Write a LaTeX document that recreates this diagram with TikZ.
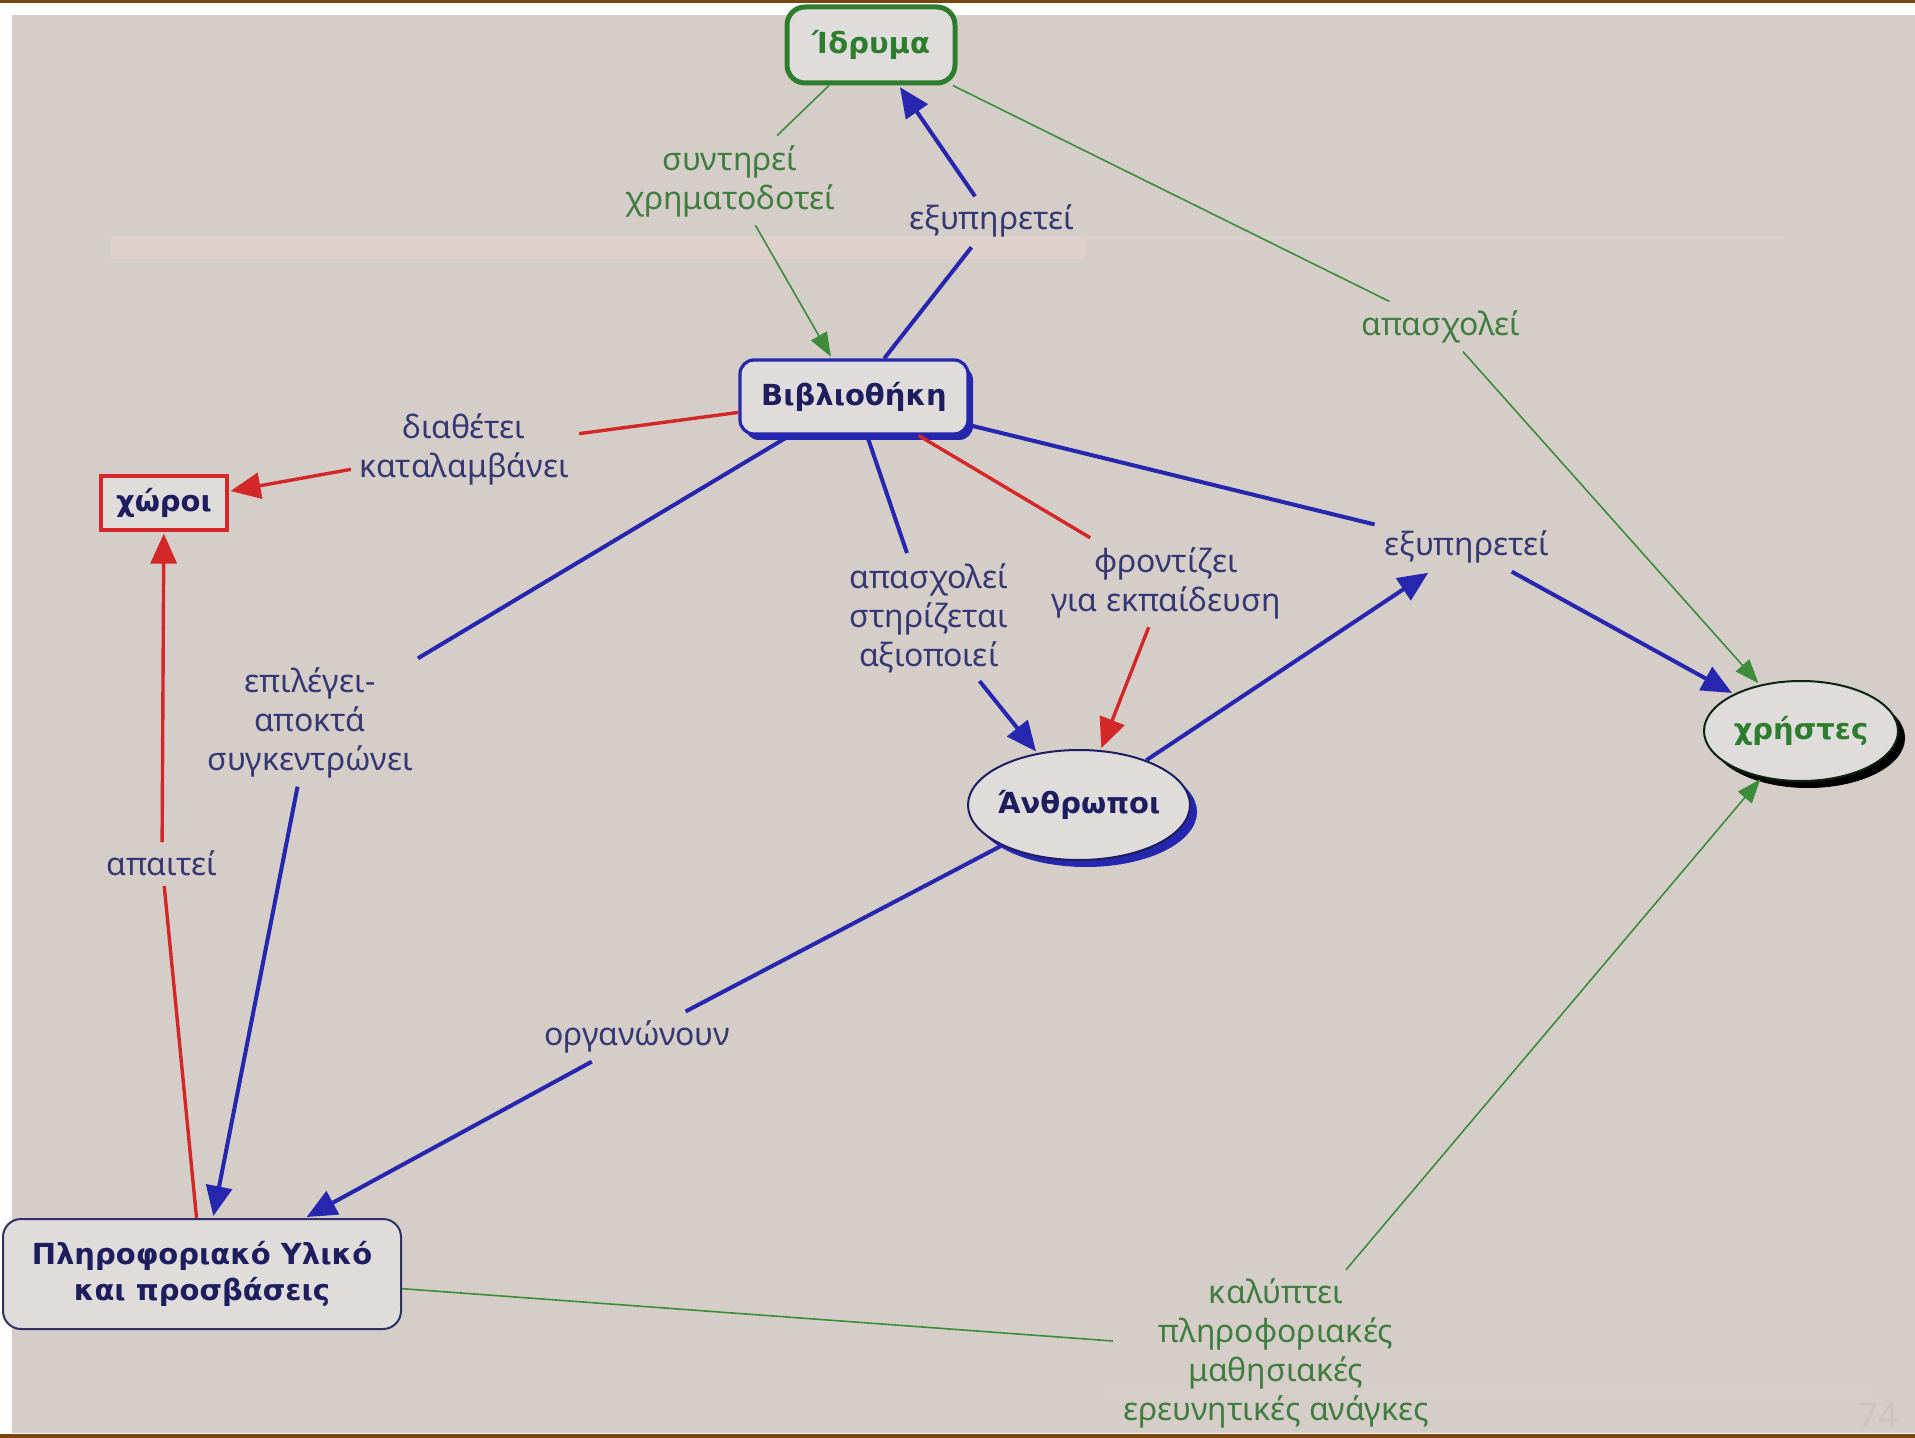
\documentclass[tikz,border=0pt]{standalone}
\usepackage{fontspec}
\setmainfont{Noto Sans}
\newfontfamily\conceptfont{DejaVu Sans}
\usetikzlibrary{arrows.meta,shapes.geometric,shadows}
\definecolor{paper}{RGB}{213,206,200}
\definecolor{band}{RGB}{222,209,203}
\definecolor{rim}{RGB}{120,70,20}
\definecolor{boxfill}{RGB}{223,220,220}
\definecolor{navy}{RGB}{30,30,95}
\definecolor{linkblue}{RGB}{38,38,175}
\definecolor{linkred}{RGB}{212,40,40}
\definecolor{linkgreen}{RGB}{60,140,60}
\definecolor{deepgreen}{RGB}{45,125,45}
\definecolor{labblue}{RGB}{55,55,115}
\definecolor{labgreen}{RGB}{65,125,65}
\definecolor{pagenum}{RGB}{204,197,190}
\tikzset{
  concept/.style={draw=#1,fill=boxfill,text=navy,align=center,
    font=\conceptfont\bfseries\fontsize{14.5}{18}\selectfont},
  concept/.default=navy,
  roundbox/.style={concept=#1,rectangle,rounded corners=7pt},
  oval/.style={concept=#1,ellipse,line width=1pt,inner ysep=2pt},
  phrase/.style={font=\fontsize{16}{19.5}\selectfont,align=center,
    text=#1,inner sep=4pt},
  phrase/.default=labblue,
  blueflow/.style={draw=linkblue,line width=2pt,
    -{Triangle[length=15pt,width=13pt]},shorten >=1pt},
  redflow/.style={draw=linkred,line width=1.7pt,
    -{Triangle[length=15pt,width=13pt]},shorten >=1pt},
  greenflow/.style={draw=linkgreen,line width=0.8pt,
    -{Triangle[length=12pt,width=9pt]},shorten >=1pt},
}

\begin{document}
\begin{tikzpicture}[x=0.5pt,y=-0.5pt]
  \useasboundingbox (0,0) rectangle (1915,1438);
  % page
  \fill[white] (0,0) rectangle (1915,1438);
  \fill[paper] (12,15) rectangle (1915,1433);
  \fill[band] (110,236) rectangle (1087,259);
  \fill[band!60!paper] (1087,236) rectangle (1785,240);
  \fill[band!50!paper] (1100,1391) rectangle (1870,1393);
  \fill[rim] (0,0) rectangle (1915,3);
  \fill[rim] (0,1434) rectangle (1915,1438);
  \node[font=\fontsize{17}{17}\selectfont,text=pagenum] (page) at (1878,1415) {74};

  % concepts
  \node[roundbox=deepgreen,line width=2.5pt,text=deepgreen,minimum width=84pt,
    minimum height=38pt,rounded corners=9pt] (idryma) at (871,45) {Ίδρυμα};
  \node[roundbox=linkblue,line width=1.6pt,minimum width=114pt,minimum height=37pt,
    drop shadow={shadow xshift=2.5pt,shadow yshift=-3pt,fill=linkblue,opacity=1}]
    (vivl) at (854,397) {Βιβλιοθήκη};
  \node[concept=linkred,rectangle,line width=1.6pt,minimum width=63pt,
    minimum height=27pt] (choroi) at (164,503) {χώροι};
  \node[oval=navy,inner xsep=-3pt,minimum width=111pt,minimum height=55pt,
    drop shadow={shadow xshift=3.5pt,shadow yshift=-3.5pt,fill=linkblue,opacity=1}]
    (anthr) at (1079,805) {Άνθρωποι};
  \node[oval=black!70!deepgreen,inner xsep=-1pt,text=deepgreen,minimum width=97pt,
    minimum height=50pt,
    drop shadow={shadow xshift=3.5pt,shadow yshift=-3.5pt,fill=black,opacity=1}]
    (christes) at (1801,731) {χρήστες};
  \node[roundbox=navy!80!gray,line width=1pt,minimum width=199pt,minimum height=55pt,
    rounded corners=9pt] (pliro) at (202,1274) {Πληροφοριακό Υλικό\\και προσβάσεις};

  % linking phrases
  \node[phrase=labgreen] (lsynt) at (730,181) {συντηρεί\\χρηματοδοτεί};
  \node[phrase] (lexyp1) at (992,221) {εξυπηρετεί};
  \node[phrase=labgreen] (lapasx1) at (1441,327) {απασχολεί};
  \node[phrase] (ldiath) at (464,449) {διαθέτει\\καταλαμβάνει};
  \node[phrase] (lepil) at (310,723) {επιλέγει-\\αποκτά\\συγκεντρώνει};
  \node[phrase] (lapasx2) at (929,618) {απασχολεί\\στηρίζεται\\αξιοποιεί};
  \node[phrase] (lfront) at (1166,583) {φροντίζει\\για εκπαίδευση};
  \node[phrase] (lexyp2) at (1467,547) {εξυπηρετεί};
  \node[phrase] (lapait) at (162,863) {απαιτεί};
  \node[phrase] (lorgan) at (637,1037) {οργανώνουν};
  \node[phrase=labgreen] (lkalypt) at (1276,1353)
    {καλύπτει\\πληροφοριακές\\μαθησιακές\\ερευνητικές ανάγκες};

  % links: source / phrase / target / style
  \foreach \s/\l/\t/\f in {idryma/lsynt/vivl/greenflow, idryma/lapasx1/christes/greenflow,
      pliro/lkalypt/christes/greenflow, vivl/lexyp1/idryma/blueflow,
      vivl/lepil/pliro/blueflow, vivl/lapasx2/anthr/blueflow,
      vivl/lexyp2/christes/blueflow, anthr/lorgan/pliro/blueflow,
      vivl/ldiath/choroi/redflow, vivl/lfront/anthr/redflow,
      pliro/lapait/choroi/redflow}{
    \draw[\f,-] (\s) -- (\l);
    \draw[\f] (\l) -- (\t);
  }
  \draw[blueflow] (anthr) -- (lexyp2);
\end{tikzpicture}
\end{document}
